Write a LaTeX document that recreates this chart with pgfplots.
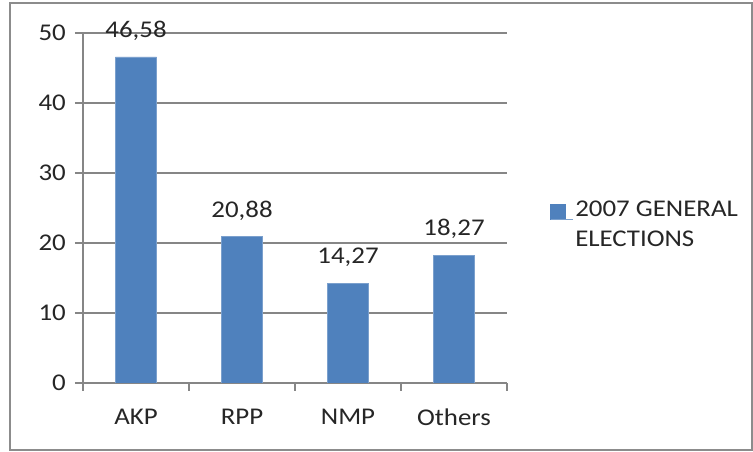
\documentclass[border=0pt]{standalone}
\usepackage{fontspec}
\setmainfont{Carlito}[FakeStretch=1.12]
\usepackage{pgfplots}
\pgfplotsset{compat=1.18}
\definecolor{barblue}{HTML}{4F81BD}
\definecolor{gridgray}{HTML}{868686}
\definecolor{framegray}{HTML}{8C8C8C}
\definecolor{txt}{HTML}{262626}
\begin{document}
\fontsize{24bp}{30bp}\selectfont
\begin{tikzpicture}
\path[use as bounding box] (0,0) rectangle (753bp,452bp);
\draw[framegray, line width=1.5bp] (10bp,2bp) rectangle (752bp,449bp);
\begin{axis}[
    at={(83bp,69bp)}, anchor=south west,
    scale only axis, width=424bp, height=350bp,
    xmin=-0.5, xmax=3.5, ymin=0, ymax=50,
    enlargelimits=false,
    axis x line=bottom, axis y line=left,
    axis line style={-, gridgray, line width=1.2bp},
    ymajorgrids, grid style={gridgray, line width=1.2bp},
    ytick={0,10,...,50},
    xtick={-0.5,0.5,1.5,2.5,3.5},
    xticklabels={AKP,RPP,NMP,Others,{}},
    x tick label style={xshift=53bp, yshift=-10bp},
    y tick label style={xshift=-1bp},
    tick align=outside, major tick length=8bp,
    tick style={gridgray, line width=1.2bp},
    ticklabel style={text=txt},
    /pgf/number format/assume math mode=true,
    ybar, bar width=41bp, bar shift=0pt,
    nodes near coords={\pgfmathprintnumber[fixed,fixed zerofill,precision=2,use comma,assume math mode=true]{\pgfplotspointmeta}},
    every node near coord/.append style={text=txt, yshift=8bp},
    legend style={draw=none, fill=none, at={(rel axis cs:1.095,0.451)}, anchor=west,
        nodes={align=left, text=txt}, row sep=0pt},
    legend image code/.code={\fill[barblue] (0bp,6bp) rectangle (15bp,21bp);
        \path (0bp,6bp) -- (22bp,6bp);},
]
\addplot[fill=barblue, draw=barblue!75!white, line width=0.8bp] coordinates {(0,46.58) (1,20.88) (2,14.27) (3,18.27)};
\addlegendentry{2007 GENERAL\\ELECTIONS}
\end{axis}
\end{tikzpicture}
\end{document}
